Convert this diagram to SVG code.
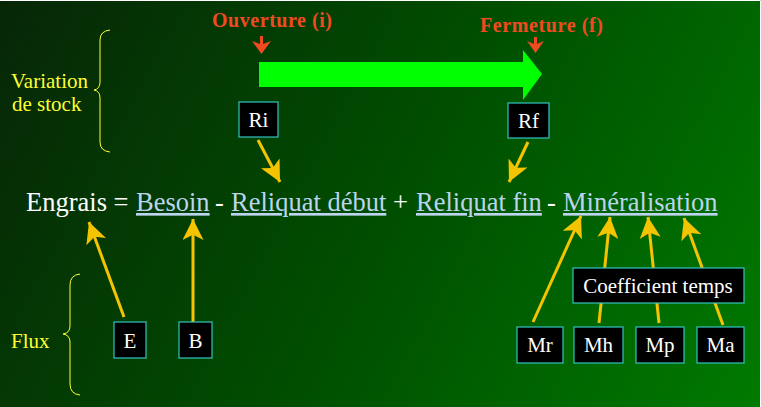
<svg xmlns="http://www.w3.org/2000/svg" width="761" height="407" viewBox="0 0 761 407">
<defs>
<linearGradient id="bg" x1="0" y1="0" x2="761" y2="407" gradientUnits="userSpaceOnUse">
<stop offset="0" stop-color="#072607"/>
<stop offset="0.5" stop-color="#004d00"/>
<stop offset="1" stop-color="#007a00"/>
</linearGradient>
<marker id="ya" viewBox="0 0 10 10" refX="10" refY="5" markerWidth="7.5" markerHeight="7" markerUnits="strokeWidth" orient="auto">
<path d="M0,0 L10,5 L0,10 L2.5,5 Z" fill="#f5c400"/>
</marker>
</defs>
<style>
text{font-family:'Liberation Serif','Times New Roman',serif}
.box{fill:#000;stroke:#33c4c0;stroke-width:1.2}
.bt{font-size:21px;fill:#fff;text-anchor:middle}
.yl{font-size:21px;fill:#ffff33}
.red{font-size:20px;font-weight:bold;fill:#f04a20}
.eq{font-size:26.5px;fill:#fff}
.ul{fill:#bcd4ee;text-decoration:underline}
.brace{fill:none;stroke:#ffff33;stroke-width:1}
.ya{stroke:#f5c400;stroke-width:3;fill:none;marker-end:url(#ya)}
.rh{fill:#f04a20}
</style>
<rect width="761" height="407" fill="url(#bg)"/>
<path d="M0,0.5 H760.5 V407" fill="none" stroke="#fff" stroke-width="1"/>

<g id="labels-left">
<text class="yl" x="11" y="88">Variation</text>
<text class="yl" x="12" y="111">de stock</text>
<path class="brace" d="M110,30 Q100,31 100,40 V82 Q100,89 94,90 Q100,91 100,98 V142 Q100,151 110,152"/>
<text class="yl" x="11" y="348">Flux</text>
<path class="brace" d="M80,274 Q70,275 70,285 V326 Q70,333 63,334 Q70,335 70,342 V384 Q70,394 80,395"/>
</g>

<g id="timeline">
<path d="M259,62 H523 V50 L542,74 L523,100 V87 H259 Z" fill="#00ff00"/>
<text class="red" x="212" y="27" textLength="120" lengthAdjust="spacing">Ouverture (i)</text>
<text class="red" x="480" y="32" textLength="123" lengthAdjust="spacing">Fermeture (f)</text>
</g>

<g id="equation">
<text class="eq" x="26" y="211">Engrais =</text>
<text class="eq ul" x="136" y="211">Besoin</text>
<text class="eq" x="215" y="211">-</text>
<text class="eq ul" x="231" y="211">Reliquat début</text>
<text class="eq" x="393" y="211">+</text>
<text class="eq ul" x="416" y="211">Reliquat fin</text>
<text class="eq" x="547" y="211">-</text>
<text class="eq ul" x="563" y="211">Minéralisation</text>
</g>

<g id="connectors">
<path class="rh" d="M260,36 H263 V44 L271,41 L261.5,54 L252,41 L260,44 Z"/>
<path class="rh" d="M534,37 H537 V44 L544,41 L535.5,53 L527,41 L534,44 Z"/>
<line class="ya" x1="258" y1="140" x2="280" y2="182"/>
<line class="ya" x1="528" y1="142" x2="509" y2="182"/>
<line class="ya" x1="124" y1="317" x2="89" y2="222"/>
<line class="ya" x1="193" y1="322" x2="193" y2="219"/>
<line class="ya" x1="533" y1="322" x2="581" y2="216"/>
<line class="ya" x1="599" y1="323" x2="610" y2="217"/>
<line class="ya" x1="659" y1="323" x2="648" y2="217"/>
<line class="ya" x1="723" y1="325" x2="684" y2="218"/>
</g>

<g id="node-Ri"><rect class="box" x="239" y="102" width="39" height="35"/><text class="bt" x="258.5" y="127">Ri</text></g>
<g id="node-Rf"><rect class="box" x="508" y="103" width="41" height="35"/><text class="bt" x="528.5" y="128">Rf</text></g>
<g id="node-E"><rect class="box" x="114" y="322" width="32" height="36"/><text class="bt" x="130" y="348">E</text></g>
<g id="node-B"><rect class="box" x="179" y="322" width="33" height="36"/><text class="bt" x="195.5" y="348">B</text></g>
<g id="node-coef"><rect class="box" x="573" y="268" width="171" height="35"/><text class="bt" x="658" y="293">Coefficient temps</text></g>
<g id="node-Mr"><rect class="box" x="517" y="327" width="46" height="36"/><text class="bt" x="540" y="352">Mr</text></g>
<g id="node-Mh"><rect class="box" x="574" y="327" width="49" height="36"/><text class="bt" x="598.5" y="352">Mh</text></g>
<g id="node-Mp"><rect class="box" x="636" y="327" width="48" height="36"/><text class="bt" x="660" y="352">Mp</text></g>
<g id="node-Ma"><rect class="box" x="697" y="327" width="47" height="36"/><text class="bt" x="720.5" y="352">Ma</text></g>
</svg>
